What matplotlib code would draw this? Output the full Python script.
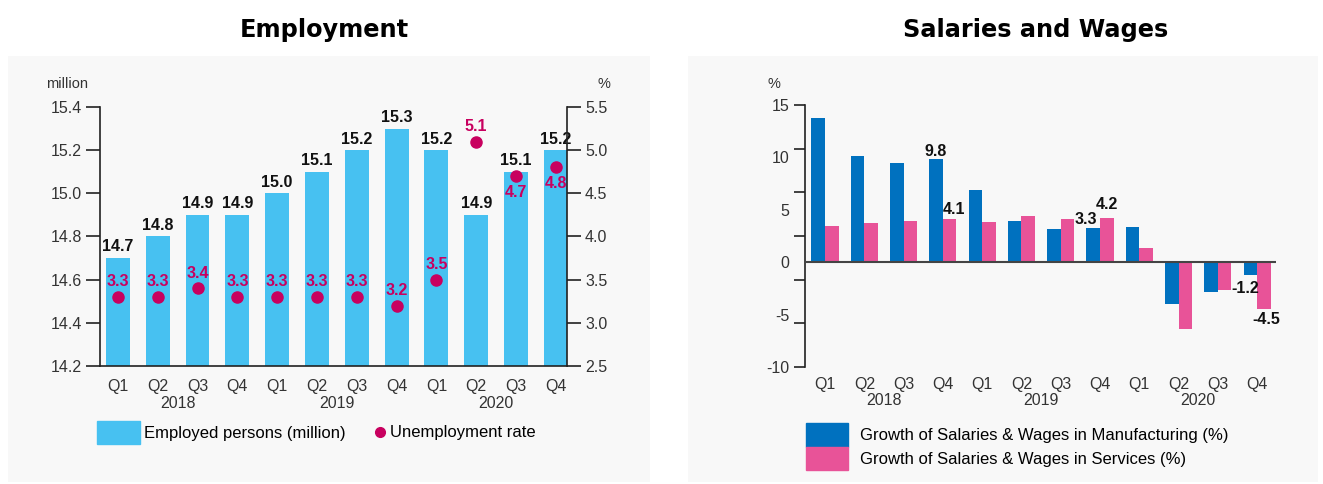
import matplotlib.pyplot as plt
import numpy as np
from matplotlib.patches import Patch, Rectangle
from matplotlib.lines import Line2D

plt.rcParams['font.family'] = ['Liberation Sans', 'DejaVu Sans']

quarters = ['Q1', 'Q2', 'Q3', 'Q4'] * 3
years = ['2018', '2019', '2020']
employed = [14.7, 14.8, 14.9, 14.9, 15.0, 15.1, 15.2, 15.3, 15.2, 14.9, 15.1, 15.2]
unemp = [3.3, 3.3, 3.4, 3.3, 3.3, 3.3, 3.3, 3.2, 3.5, 5.1, 4.7, 4.8]
manuf = [13.8, 10.1, 9.5, 9.8, 6.9, 3.9, 3.2, 3.3, 3.4, -4.0, -2.8, -1.2]
serv = [3.5, 3.7, 3.9, 4.1, 3.8, 4.4, 4.1, 4.2, 1.4, -6.4, -2.7, -4.5]

c_emp = '#47c1f1'
c_unemp = '#c8005f'
c_man = '#0071bf'
c_ser = '#e85398'
c_tick = '#333333'
fs = 11.5

fig = plt.figure(figsize=(13.23, 4.84), dpi=100)
fig.patches.append(Rectangle((8/1323, 2/484), 642/1323, 426/484, transform=fig.transFigure,
                             facecolor='#f8f8f8', edgecolor='none', zorder=-10))
fig.patches.append(Rectangle((688/1323, 2/484), 630/1323, 426/484, transform=fig.transFigure,
                             facecolor='#f8f8f8', edgecolor='none', zorder=-10))
fig.text(324/1323, 1 - 30/484, 'Employment', ha='center', va='center',
         fontsize=17.3, fontweight='bold', family='DejaVu Sans')
fig.text(1036/1323, 1 - 30/484, 'Salaries and Wages', ha='center', va='center',
         fontsize=17.3, fontweight='bold', family='DejaVu Sans')

x = np.arange(len(quarters))

# ---- Employment ----
ax = fig.add_axes([100/1323, 118/484, 467/1323, 259/484])
ax.set_facecolor('none')
ax.bar(x, employed, width=0.6, color=c_emp, zorder=2)
ax.set_xlim(-0.45, 11.28)
ax.set_ylim(14.2, 15.4)
ax.set_yticks([14.2, 14.4, 14.6, 14.8, 15.0, 15.2, 15.4])
ax.set_yticklabels(['14.2', '14.4', '14.6', '14.8', '15.0', '15.2', '15.4'])
ax.set_xticks(x)
ax.set_xticklabels(quarters)
ax.tick_params(axis='x', length=0, pad=9, labelsize=fs, labelcolor=c_tick)
ax.tick_params(axis='y', length=10, width=1.2, color='#222', pad=3, labelsize=fs, labelcolor=c_tick)
for s in ['left', 'bottom']:
    ax.spines[s].set_linewidth(1.2)
    ax.spines[s].set_color('#222')
ax.spines['top'].set_visible(False)
ax.spines['right'].set_visible(False)
for xi, v in zip(x, employed):
    ax.annotate(f'{v:.1f}', (xi, v), xytext=(0, 8), textcoords='offset points',
                ha='center', va='center', fontsize=fs, fontweight='bold', color='#111')
for i, y in enumerate(years):
    ax.annotate(y, (x[i*4:i*4+4].mean(), 0), xycoords=('data', 'axes fraction'),
                xytext=(0, -27), textcoords='offset points', ha='center', va='center',
                fontsize=fs, color=c_tick)
ax.text(-0.026, 1.09, 'million', transform=ax.transAxes, ha='right', va='center',
        fontsize=10.5, color=c_tick)

ax2 = ax.twinx()
ax2.set_ylim(2.5, 5.5)
ax2.set_yticks([2.5, 3.0, 3.5, 4.0, 4.5, 5.0, 5.5])
ax2.set_yticklabels(['2.5', '3.0', '3.5', '4.0', '4.5', '5.0', '5.5'])
ax2.tick_params(axis='y', length=10, width=1.2, color='#222', pad=3, labelsize=fs, labelcolor=c_tick)
ax2.spines['right'].set_linewidth(1.2)
ax2.spines['right'].set_color('#222')
for s in ['left', 'top', 'bottom']:
    ax2.spines[s].set_visible(False)
ax2.plot(x, unemp, 'o', color=c_unemp, markersize=8, zorder=3)
for i, (xi, v) in enumerate(zip(x, unemp)):
    dy = -11.5 if i >= 10 else 11
    ax2.annotate(f'{v:.1f}', (xi, v), xytext=(0, dy), textcoords='offset points',
                 ha='center', va='center', fontsize=fs, fontweight='bold', color=c_unemp)
ax2.text(1.08, 1.09, '%', transform=ax.transAxes, ha='center', va='center',
         fontsize=10.5, color=c_tick)

fig.legend(handles=[Patch(color=c_emp)], labels=['Employed persons (million)'],
           loc='upper left', bbox_to_anchor=(97/1323, 1 - 421/484), frameon=False,
           handlelength=2.55, handleheight=1.75, handletextpad=0.3,
           borderpad=0, borderaxespad=0, fontsize=12)
fig.legend(handles=[Line2D([], [], marker='o', ls='none', color=c_unemp, markersize=7)],
           labels=['Unemployment rate'], loc='center left',
           bbox_to_anchor=(373/1323, 1 - 433/484), frameon=False,
           handlelength=0.8, handletextpad=0.25, borderpad=0, borderaxespad=0, fontsize=12)

# ---- Salaries and Wages ----
bx = fig.add_axes([805/1323, 117/484, 471/1323, 262/484])
bx.set_facecolor('none')
w = 0.345
bx.bar(x - w/2, manuf, width=w, color=c_man, zorder=2)
bx.bar(x + w/2, serv, width=w, color=c_ser, zorder=2)
bx.axhline(0, color='#444', lw=1.5, zorder=3)
bx.set_xlim(-0.51, 11.48)
bx.set_ylim(-10, 15)
bx.yaxis.remove_overlapping_locs = False
bx.set_yticks(np.linspace(15, -10, 7))
bx.set_yticklabels([])
bx.set_yticks([15, 10, 5, 0, -5, -10], minor=True)
bx.set_yticklabels(['15', '10', '5', '0', '-5', '-10'], minor=True)
bx.tick_params(axis='y', which='major', length=8, width=1.2, color='#222')
bx.tick_params(axis='y', which='minor', length=0, pad=11, labelsize=fs, labelcolor=c_tick)
bx.set_xticks(x)
bx.set_xticklabels(quarters)
bx.tick_params(axis='x', length=0, pad=7, labelsize=fs, labelcolor=c_tick)
bx.spines['left'].set_linewidth(1.2)
bx.spines['left'].set_color('#222')
for s in ['top', 'right', 'bottom']:
    bx.spines[s].set_visible(False)
for i, y in enumerate(years):
    bx.annotate(y, (x[i*4:i*4+4].mean(), 0), xycoords=('data', 'axes fraction'),
                xytext=(0, -24), textcoords='offset points', ha='center', va='center',
                fontsize=fs, color=c_tick)
bx.text(-0.066, 1.08, '%', transform=bx.transAxes, ha='center', va='center',
        fontsize=10.5, color=c_tick)

lab_kw = dict(textcoords='offset points', ha='center', va='center',
              fontsize=fs, fontweight='bold', color='#111')
bx.annotate(f'{manuf[3]:.1f}', (x[3] - w/2, manuf[3]), xytext=(0, 6), **lab_kw)
bx.annotate(f'{serv[3]:.1f}', (x[3] + w/2, serv[3]), xytext=(3, 7), **lab_kw)
bx.annotate(f'{manuf[7]:.1f}', (x[7] - w/2, manuf[7]), xytext=(-5, 6), **lab_kw)
bx.annotate(f'{serv[7]:.1f}', (x[7] + w/2, serv[7]), xytext=(0, 9.5), **lab_kw)
bx.annotate(f'{manuf[11]:.1f}', (x[11] - w/2, manuf[11]), xytext=(-4, -10), **lab_kw)
bx.annotate(f'{serv[11]:.1f}', (x[11] + w/2, serv[11]), xytext=(2, -7), **lab_kw)

fig.legend(handles=[Patch(color=c_man), Patch(color=c_ser)],
           labels=['Growth of Salaries & Wages in Manufacturing (%)',
                   'Growth of Salaries & Wages in Services (%)'],
           loc='upper left', bbox_to_anchor=(806/1323, 1 - 423/484), frameon=False,
           handlelength=2.5, handleheight=1.8, labelspacing=0, handletextpad=0.75,
           borderpad=0, borderaxespad=0, fontsize=12)

fig.savefig('out.png', dpi=100)
